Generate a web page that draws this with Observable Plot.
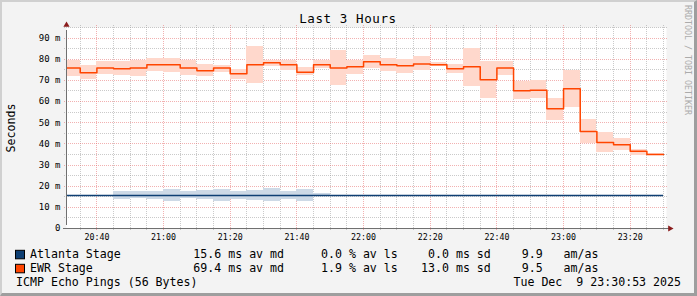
<!DOCTYPE html>
<html><head><meta charset="utf-8">
<script src="https://cdn.jsdelivr.net/npm/d3@7"></script>
<script src="https://cdn.jsdelivr.net/npm/@observablehq/plot@0.6"></script>
<style>
html,body{margin:0;padding:0;background:#f3f3f3;}
#wrap{position:relative;width:697px;height:296px;background:#f3f3f3;overflow:hidden;font-family:"DejaVu Sans Mono",monospace;}
#frame{position:absolute;left:0;top:0;width:697px;height:296px;box-sizing:border-box;border-top:2px solid #d0d0d0;border-left:2px solid #d0d0d0;border-right:3px solid #9e9e9e;border-bottom:3px solid #9e9e9e;pointer-events:none;}
#chart{position:absolute;left:0;top:0;}
#overlay{position:absolute;left:0;top:0;pointer-events:none;}
#overlay text{font-family:"DejaVu Sans Mono",monospace;white-space:pre;}
</style></head>
<body><div id="wrap"><div id="chart"></div><svg id="overlay" width="697" height="296"></svg><div id="frame"></div></div>
<script>
// ---- data (milliseconds) ----
const ewrSlots = ["20:30","20:35","20:40","20:45","20:50","20:55","21:00","21:05","21:10","21:15","21:20","21:25",
  "21:30","21:35","21:40","21:45","21:50","21:55","22:00","22:05","22:10","22:15","22:20","22:25",
  "22:30","22:35","22:40","22:45","22:50","22:55","23:00","23:05","23:10","23:15","23:20","23:25"];
const ewrMedian = [75.9,73.6,75.9,75.5,75.9,77.4,77.4,75.9,74.5,75.9,73.1,77.4,
  78.3,77.4,73.9,77.4,75.9,76.4,78.8,77.4,76.9,77.8,77.4,75.5,
  76.4,70.3,75.9,65.1,65.4,56.6,66.0,45.8,40.6,39.6,36.5,35.0];
const ewrLow = [72.0,70.4,72.9,72.5,72.0,74.0,73.6,72.5,72.0,73.5,70.4,68.7,
  76.5,74.7,72.3,75.5,67.6,72.8,75.5,74.0,73.4,74.7,76.6,73.4,
  67.3,61.6,72.5,60.8,61.3,51.2,57.4,40.1,35.7,36.8,34.7,34.6];
const ewrHigh = [79.4,77.0,78.9,78.9,79.4,80.2,80.2,79.4,77.5,77.0,75.1,86.0,
  79.4,79.4,75.9,79.4,84.1,79.4,81.7,80.2,79.9,81.3,78.3,77.5,
  85.0,78.8,78.8,69.5,70.1,61.5,74.7,51.6,45.6,42.6,37.4,35.5];

const atlSlots = ["20:45","20:50","20:55","21:00","21:05","21:10","21:15","21:20","21:25","21:30","21:35","21:40","21:45"];
const atlLow  = [13.7,14.0,13.7,12.6,14.0,13.7,12.6,13.7,13.0,12.6,13.7,12.6,15.4];
const atlHigh = [17.6,17.6,17.6,18.6,17.6,18.1,18.6,17.6,18.1,19.0,17.6,18.6,16.4];
const atlMedian = 15.6;

const yMajorTicks = [0,10,20,30,40,50,60,70,80,90];
const yMinorTicks = [5,15,25,35,45,55,65,75,85,95];

const legendNames  = ["Atlanta Stage","EWR Stage"];
const legendColors = ["#0e3f73","#ff4500"];
const legendMedian = ["15.6 ms av md","69.4 ms av md"];
const legendLoss   = ["0.0 % av ls","1.9 % av ls"];
const legendSd     = [" 0.0 ms sd","13.0 ms sd"];
const legendAmas   = ["9.9   am/as","9.5   am/as"];

const titleText = "Last 3 Hours";
const yLabel = "Seconds";
const footText = "ICMP Echo Pings (56 Bytes)";
const dateText = "Tue Dec  9 23:30:53 2025";
const watermark = "RRDTOOL / TOBI OETIKER";

// ---- build ----
const STEP = 5 * 60 * 1000;
const parse = s => { const [h, m] = s.split(":").map(Number); return new Date(Date.UTC(2025, 11, 9, h, m)); };
const start = new Date(Date.UTC(2025, 11, 9, 20, 30, 53));
const end = new Date(Date.UTC(2025, 11, 9, 23, 30, 53));

const ewr = ewrSlots.map((s, i) => ({t0: parse(s), t1: new Date(+parse(s) + STEP), med: ewrMedian[i], lo: ewrLow[i], hi: ewrHigh[i]}));
const atl = atlSlots.map((s, i) => ({t0: parse(s), t1: new Date(+parse(s) + STEP), lo: atlLow[i], hi: atlHigh[i]}));
const ewrLine = ewr.map(d => ({t: d.t0, v: d.med})).concat([{t: ewr[ewr.length - 1].t1, v: ewr[ewr.length - 1].med}]);
const lineStart = ewr[0].t0, lineEnd = ewr[ewr.length - 1].t1;

const xMajor = d3.utcMinute.every(20).range(start, end);
const xMinor = d3.utcMinute.every(5).range(start, end).filter(d => d.getUTCMinutes() % 20 !== 0);

const minorColor = "rgba(150,150,150,0.5)";
const majorColor = "rgba(230,100,100,0.5)";
const axisColor = "#707070";
const arrowColor = "#8a1c1c";

const chart = Plot.plot({
  width: 697, height: 250,
  marginLeft: 66, marginRight: 31, marginTop: 27, marginBottom: 22,
  style: {background: "transparent", fontFamily: "DejaVu Sans Mono, monospace", color: "#000", overflow: "visible"},
  x: {type: "utc", domain: [start, end]},
  y: {domain: [0, 95]},
  marks: [
    Plot.frame({fill: "#ffffff", stroke: "none"}),
    Plot.ruleY(yMinorTicks, {stroke: minorColor, strokeDasharray: "1,1", insetLeft: -2, insetRight: -2, shapeRendering: "crispEdges"}),
    Plot.ruleX(xMinor, {stroke: minorColor, strokeDasharray: "1,1", insetTop: -2, insetBottom: -2, shapeRendering: "crispEdges"}),
    Plot.ruleY(yMajorTicks.filter(v => v > 0), {stroke: majorColor, strokeDasharray: "1,1", insetLeft: -2, insetRight: -2, shapeRendering: "crispEdges"}),
    Plot.ruleX(xMajor, {stroke: majorColor, strokeDasharray: "1,1", insetTop: -2, insetBottom: -2, shapeRendering: "crispEdges"}),
    Plot.rect(ewr, {x1: "t0", x2: "t1", y1: "lo", y2: "hi", fill: "#ffd8cc", clip: true, shapeRendering: "crispEdges"}),
    Plot.rect(atl, {x1: "t0", x2: "t1", y1: "lo", y2: "hi", fill: "#cdd9e6", clip: true, shapeRendering: "crispEdges"}),
    Plot.ruleY([atlMedian], {x1: lineStart, x2: lineEnd, stroke: legendColors[0], strokeWidth: 1.3, clip: true}),
    Plot.line(ewrLine, {x: "t", y: "v", curve: "step-after", stroke: legendColors[1], strokeWidth: 1.5, clip: true}),
    Plot.ruleX([start], {y1: 0, y2: 95, stroke: axisColor, insetTop: -3, insetBottom: -3}),
    Plot.ruleY([0], {x1: start, x2: end, stroke: axisColor, insetLeft: -3, insetRight: -3}),
    Plot.dot([{t: start, v: 95}], {x: "t", y: "v", symbol: "triangle", r: 2.3, fill: arrowColor, stroke: "none", dy: -2.5}),
    Plot.dot([{t: end, v: 0}], {x: "t", y: "v", symbol: "triangle", r: 2.3, fill: arrowColor, stroke: "none", rotate: 90, dx: 3.5}),
    Plot.axisY({ticks: yMajorTicks, tickFormat: v => v === 0 ? "0" : `${v} m`, tickSize: 0, tickPadding: 6, fontSize: 9, fill: "#000", label: null}),
    Plot.axisX({ticks: xMajor, tickFormat: d3.utcFormat("%H:%M"), tickSize: 0, tickPadding: 6, fontSize: 8.3, fill: "#000", label: null})
  ]
});
document.getElementById("chart").appendChild(chart);

// ---- title, labels, legend ----
const ov = d3.select("#overlay");
ov.append("text").attr("x", 348).attr("y", 23.3).attr("text-anchor", "middle")
  .style("font-size", "12.5px").style("letter-spacing", "0.6px").text(titleText);
ov.append("text").attr("transform", "translate(15,128) rotate(-90)").attr("text-anchor", "middle")
  .style("font-size", "11.6px").text(yLabel);
ov.append("text").attr("transform", "translate(685,5) rotate(90)").attr("text-anchor", "start")
  .style("font-size", "8.3px").style("fill", "#ababab").text(watermark);

const rowBase = [258.3, 272.3];
legendNames.forEach((name, i) => {
  const y = rowBase[i];
  ov.append("rect").attr("x", 15.5).attr("y", y - 8).attr("width", 9).attr("height", 8.5)
    .attr("fill", legendColors[i]).attr("stroke", "#000").attr("stroke-width", 1);
  const cols = [[30, name], [193.3, legendMedian[i]], [321, legendLoss[i]], [421, legendSd[i]], [521.7, legendAmas[i]]];
  cols.forEach(([x, s]) => ov.append("text").attr("x", x).attr("y", y).style("font-size", "11.6px").text(s));
});
ov.append("text").attr("x", 16).attr("y", 286).style("font-size", "11.6px").text(footText);
ov.append("text").attr("x", 681).attr("y", 286).attr("text-anchor", "end").style("font-size", "11.6px").text(dateText);
</script>
</body></html>
